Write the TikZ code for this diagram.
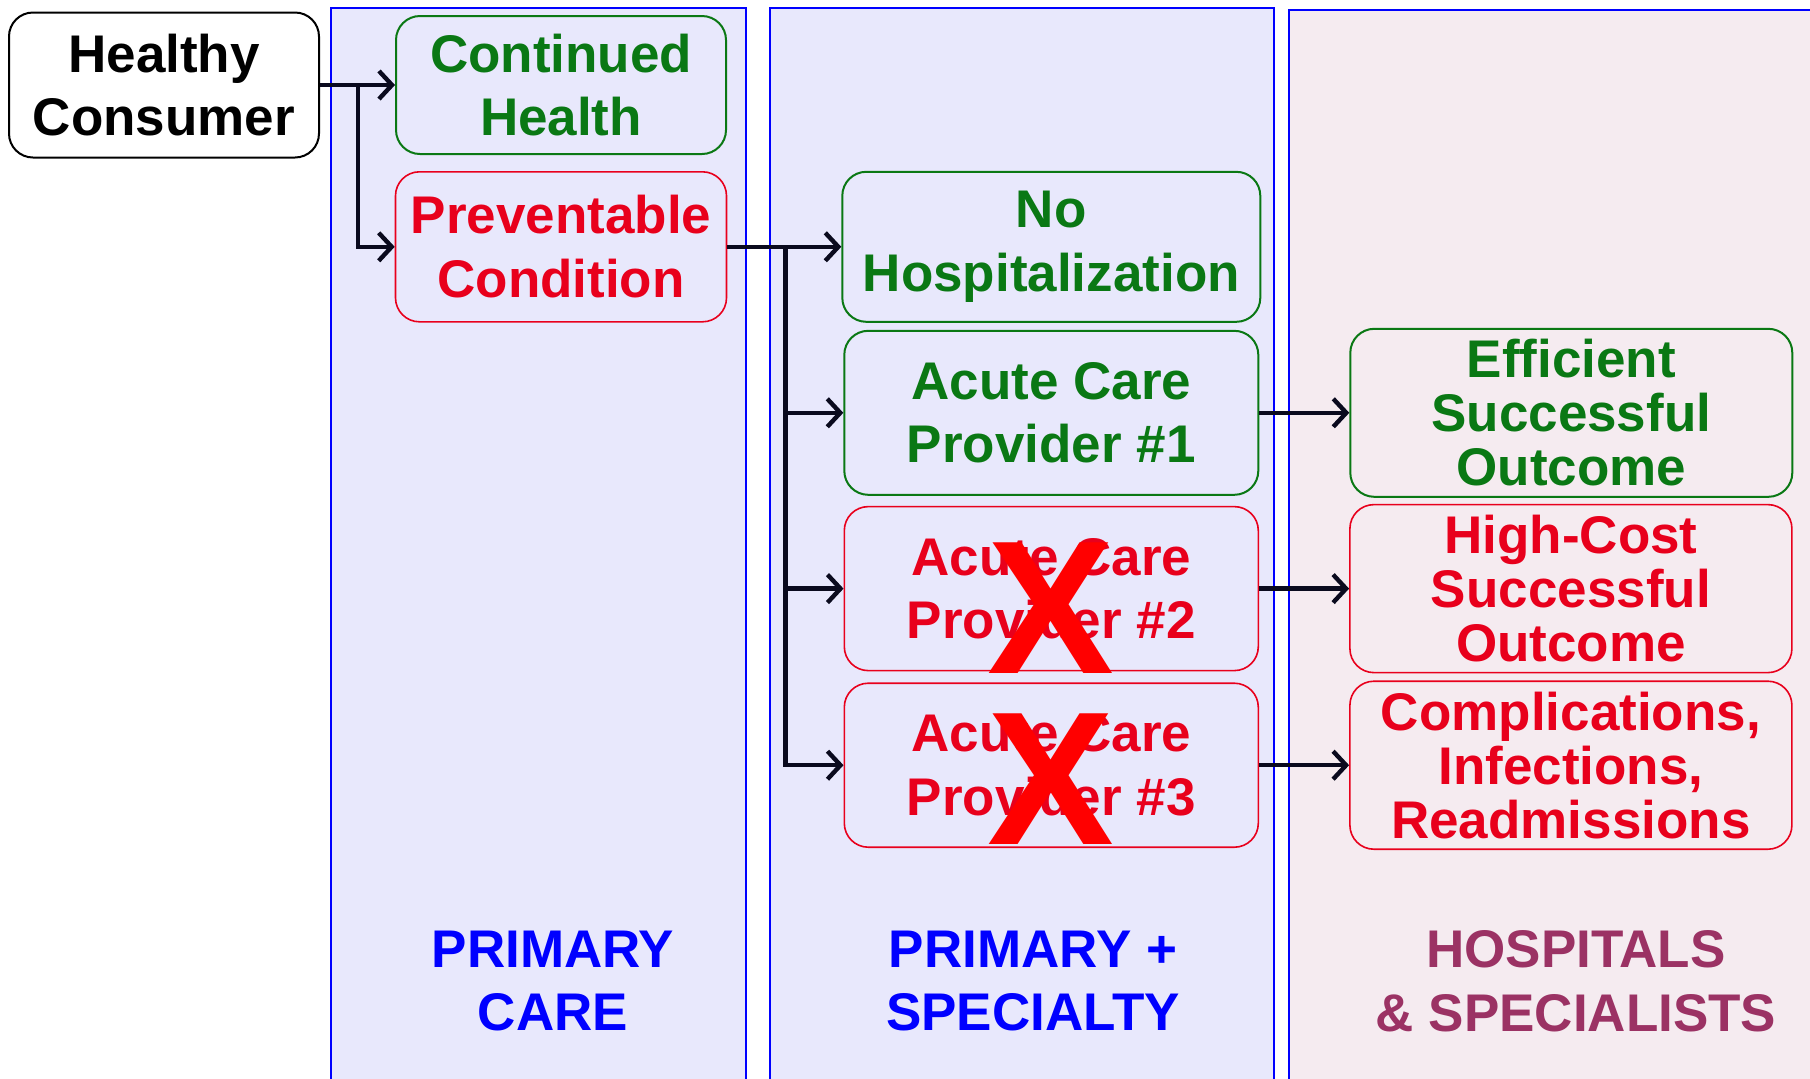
\documentclass[tikz,border=0pt]{standalone}
\usepackage{fontspec}
\setmainfont{Liberation Sans}
\usepackage{xcolor}
\usepackage{tikz}
\usetikzlibrary{calc, positioning, arrows.meta}
\definecolor{okGreen}{RGB}{10,120,20}
\definecolor{badRed}{RGB}{232,0,28}
\definecolor{crossRed}{RGB}{255,0,0}
\definecolor{colBlue}{RGB}{0,0,255}
\definecolor{colLav}{RGB}{232,232,252}
\definecolor{colRose}{RGB}{245,235,240}
\definecolor{colPlum}{RGB}{155,50,100}
\definecolor{arrowInk}{RGB}{10,10,30}
\newcommand{\bigtext}{\fontsize{26.5}{31.8}\selectfont\bfseries}
\newcommand{\tighttext}{\fontsize{26.5}{27}\selectfont\bfseries}
\tikzset{
    start/.style={rectangle, rounded corners=12pt, draw=black, line width=1pt, fill=white, align=center, minimum width=155pt, minimum height=72.5pt, inner sep=2pt, font=\bigtext},
    good/.style={rectangle, rounded corners=12pt, draw=okGreen, line width=1pt, text=okGreen, align=center, inner sep=2pt, font=\bigtext},
    bad/.style={rectangle, rounded corners=12pt, draw=badRed, line width=0.8pt, text=badRed, align=center, inner sep=2pt, font=\bigtext},
    outcome/.style={minimum width=221pt, minimum height=84pt, font=\tighttext},
    provider/.style={minimum width=207pt, minimum height=82pt},
    column/.style={draw=colBlue, line width=0.6pt},
    colLabel/.style={align=center, font=\bigtext},
    cross/.style={text=crossRed, inner sep=0pt, font=\fontsize{95}{95}\selectfont\bfseries},
    arrow/.style={-{Straight Barb[length=6.5pt, width=14pt]}, line width=2.2pt, draw=arrowInk}
}

\begin{document}
\begin{tikzpicture}
        \useasboundingbox (0,0) rectangle (905pt,-539pt);

        % Care settings
        \draw[column, fill=colLav] (165.5pt,-4pt) rectangle (373pt,-548pt);
        \draw[column, fill=colLav] (385pt,-4pt) rectangle (637pt,-548pt);
        \draw[column, fill=colRose, line width=0.9pt] (644.5pt,-5pt) rectangle (915pt,-548pt);

        \node[colLabel, text=colBlue] (LblPrimary) at (276.5pt,-490.5pt) {PRIMARY\\CARE};
        \node[colLabel, text=colBlue] (LblSpecialty) at (516.5pt,-490.5pt) {PRIMARY +\\SPECIALTY};
        \node[colLabel, text=colPlum] (LblHospital) at (788pt,-490.5pt) {HOSPITALS\\\& SPECIALISTS};

        % Consumer
        \node[start] (Consumer) at (82pt,-42.5pt) {Healthy\\Consumer};

        % Primary care
        \node[good, right=37.5pt of Consumer, minimum width=165pt, minimum height=69pt] (Continued) {Continued\\Health};
        \node[bad, below=8pt of Continued, minimum width=165.5pt, minimum height=75pt] (Preventable) {Preventable\\Condition};

        % Primary + specialty
        \node[good, right=57pt of Preventable, minimum width=209pt, minimum height=75pt] (NoHosp) {No\\Hospitalization};
        \node[good, provider, below=3.5pt of NoHosp] (Acute1) {Acute Care\\Provider \#1};
        \node[bad, provider, below=5pt of Acute1] (Acute2) {Acute Care\\Provider \#2};
        \node[bad, provider, below=5.5pt of Acute2] (Acute3) {Acute Care\\Provider \#3};

        % Hospitals & specialists
        \node[good, outcome, right=45pt of Acute1] (Efficient) {Efficient\\Successful\\Outcome};
        \node[bad, outcome, right=45pt of Acute2] (HighCost) {High-Cost\\Successful\\Outcome};
        \node[bad, outcome, right=45pt of Acute3] (Complic) {Complications,\\Infections,\\Readmissions};

        % Crossed out providers
        \node[cross, anchor=south] (Cross2) at ($(Acute2.south)+(0,-1pt)$) {X};
        \node[cross, anchor=south] (Cross3) at ($(Acute3.south)+(0,1.5pt)$) {X};

        % Connections
        \coordinate (ForkA) at ($(Consumer.east)+(19pt,0)$);
        \draw[arrow] (Consumer.east) -- (Continued.west);
        \draw[arrow] (ForkA) |- (Preventable.west);

        \coordinate (ForkB) at ($(Preventable.east)+(29pt,0)$);
        \draw[arrow] (Preventable.east) -- (NoHosp.west);
        \draw[arrow] (ForkB) |- (Acute1.west);
        \draw[arrow] (ForkB) |- (Acute2.west);
        \draw[arrow] (ForkB) |- (Acute3.west);

        \draw[arrow] (Acute1) -- (Efficient);
        \draw[arrow] (Acute2) -- (HighCost);
        \draw[arrow] (Acute3) -- (Complic);

    \end{tikzpicture}
\end{document}
